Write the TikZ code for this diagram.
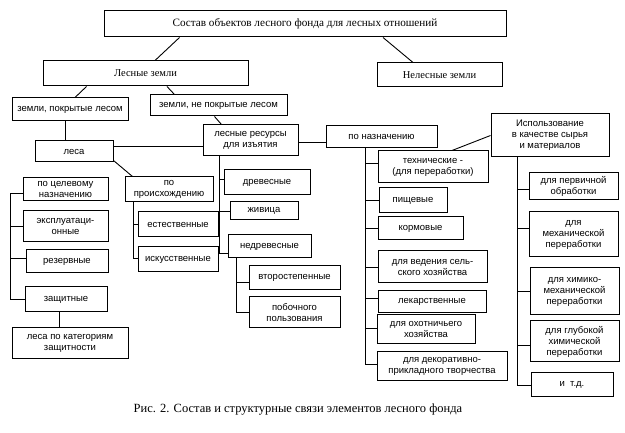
\documentclass[tikz,border=0pt]{standalone}
\usepackage{fontspec}
\setmainfont{Liberation Serif}
\newfontfamily\boxfont{Liberation Sans}
\begin{document}
\begin{tikzpicture}[x=1pt,y=-1pt,
  box/.style={draw, line width=1pt, inner sep=1pt, align=center, font=\boxfont\fontsize{9.5}{11}\selectfont},
  bigbox/.style={draw, line width=1pt, inner sep=1pt, align=center, font=\fontsize{10.5}{12}\selectfont},
  conn/.style={line width=0.9pt}]
\useasboundingbox (0,0) rectangle (625,433);
\def\bx#1#2#3#4#5#6#7{\node[#1, minimum width=#5pt, minimum height=#6pt] (#2) at (#3,#4) {#7};}
\bx{bigbox, font=\fontsize{11.2}{13}\selectfont}{top}{305}{24}{402}{26}{Состав объектов лесного фонда для лесных отношений}
\bx{bigbox}{lz}{145.5}{73.5}{205}{25}{Лесные земли}
\bx{bigbox}{nlz}{439.5}{75}{125}{24}{Нелесные земли}
\bx{box}{pokr}{70}{109.5}{116}{23}{земли, покрытые лесом}
\bx{box}{nepokr}{218.5}{105.5}{137}{21}{земли, не покрытые лесом}
\bx{box}{resursy}{250.5}{140.5}{95}{31}{лесные ресурсы\\для изъятия}
\bx{box}{lesa}{74}{151.5}{78}{21}{леса}
\bx{box}{naznach}{381.5}{137}{111}{22}{по назначению}
\bx{box}{ispolz}{550}{135.5}{118}{43}{Использование\\в качестве сырья\\и материалов}
\bx{box}{celevoe}{65.5}{189.5}{85}{23}{по целевому\\назначению}
\bx{box}{proish}{169}{189.5}{88}{25}{по\\происхождению}
\bx{box}{ekspl}{65.5}{226.5}{85}{31}{эксплуатаци-\\онные}
\bx{box}{rezerv}{67}{261.5}{82}{23}{резервные}
\bx{box}{zasch}{66}{299.5}{82}{25}{защитные}
\bx{box}{kateg}{70}{343.5}{116}{31}{леса по категориям\\защитности}
\bx{box}{estest}{178}{224.5}{80}{25}{естественные}
\bx{box}{iskus}{178}{259.5}{80}{25}{искусственные}
\bx{box}{drev}{267}{182.5}{86}{25}{древесные}
\bx{box}{zhiv}{264}{211}{68}{18}{живица}
\bx{box}{nedrev}{269.5}{246.5}{83}{23}{недревесные}
\bx{box}{vtor}{294.5}{278}{91}{24}{второстепенные}
\bx{box}{pobo}{294.5}{312.5}{91}{31}{побочного\\пользования}
\bx{box}{tehn}{433}{167}{110}{32}{технические -\\(для переработки)}
\bx{box}{pisch}{413}{200.5}{68}{25}{пищевые}
\bx{box}{korm}{420.5}{228.5}{85}{23}{кормовые}
\bx{box}{selh}{432.5}{267}{109}{32}{для ведения сель-\\ского хозяйства}
\bx{box}{lekar}{432}{302}{108}{22}{лекарственные}
\bx{box}{ohot}{426}{329.5}{98}{29}{для охотничьего\\хозяйства}
\bx{box}{dekor}{442}{366}{130}{29}{для декоративно-\\прикладного творчества}
\bx{box}{perv}{573.5}{186.5}{89}{27}{для первичной\\обработки}
\bx{box}{meh}{573.5}{234.5}{89}{45}{для\\механической\\переработки}
\bx{box}{himmeh}{574.5}{291.5}{89}{47}{для химико-\\механической\\переработки}
\bx{box}{glub}{574.5}{341.5}{89}{41}{для глубокой\\химической\\переработки}
\bx{box}{itd}{572}{385}{82}{24}{и~~т.д.}
\node[font=\fontsize{12.5}{14}\selectfont] (cap) at (298,410) {Рис. 2. Состав и структурные связи элементов лесного фонда};
% upper connectors
\draw[conn] ([xshift=76pt]top.south west) -- ([xshift=9.5pt]lz.north);
\draw[conn] ([xshift=78pt]top.south) -- ([xshift=-26.5pt]nlz.north);
\draw[conn] ([xshift=44pt]lz.south west) -- ([xshift=5pt]pokr.north);
\draw[conn] ([xshift=21.5pt]lz.south) -- ([xshift=25pt]nepokr.north west);
\draw[conn] ([xshift=65pt]nepokr.south west) -- ([xshift=19pt]resursy.north west);
\draw[conn] ([xshift=-5pt]pokr.south) -- ([xshift=-5pt]pokr.south |- lesa.north);
\draw[conn] ([yshift=5pt]lesa.east) -- ([yshift=5pt]lesa.east -| resursy.west);
\draw[conn] ([yshift=-2pt]resursy.east) -- ([yshift=-2pt]resursy.east -| naznach.west);
\draw[conn] ([xshift=19pt]tehn.north) -- (ispolz.west);
% forests
\draw[conn] (celevoe.north -| lesa.south) -- (celevoe.north);
\draw[conn] ([yshift=2pt]lesa.south east) -- ([xshift=8pt]proish.north west);
\draw[conn] ([yshift=-3.5pt]celevoe.west) -- ++(-12,0) |- (zasch.west);
\draw[conn] (ekspl.west) -- ++(-12,0);
\draw[conn] ([yshift=3.5pt]rezerv.west) -- ++(-15,0);
\draw[conn] ([xshift=-7pt]zasch.south) -- ([xshift=-7pt]zasch.south |- kateg.north);
\draw[conn] ([xshift=-36pt]proish.south) |- ([yshift=1.5pt]iskus.west);
\draw[conn] (estest.west) -- ++(-5,0);
% resources
\draw[conn] ([xshift=-31.5pt]resursy.south) |- ([yshift=-6.5pt]nedrev.west);
\draw[conn] ([yshift=3.5pt]drev.west) -- ++(-5,0);
\draw[conn] (zhiv.west) -- ++(-11,0);
\draw[conn] ([xshift=-33.5pt]nedrev.south) |- (pobo.west);
\draw[conn] ([yshift=-4pt]vtor.west) -- ++(-13,0);
% by purpose
\draw[conn] ([xshift=-16.5pt]naznach.south) |- ([yshift=2pt]dekor.west);
\draw[conn] ([yshift=4pt]tehn.west) -- ++(-13,0);
\draw[conn] (pisch.west) -- ++(-14,0);
\draw[conn] (korm.west) -- ++(-13,0);
\draw[conn] (selh.west) -- ++(-13,0);
\draw[conn] ([yshift=4pt]lekar.west) -- ++(-13,0);
\draw[conn] ([yshift=1.5pt]ohot.west) -- ++(-12,0);
% raw materials
\draw[conn] ([xshift=-33pt]ispolz.south) |- (itd.west);
\draw[conn] ([yshift=-2.5pt]perv.west) -- ++(-12,0);
\draw[conn] ([yshift=6.5pt]meh.west) -- ++(-12,0);
\draw[conn] (himmeh.west) -- ++(-13,0);
\draw[conn] ([yshift=-3.5pt]glub.west) -- ++(-13,0);
\end{tikzpicture}
\end{document}
